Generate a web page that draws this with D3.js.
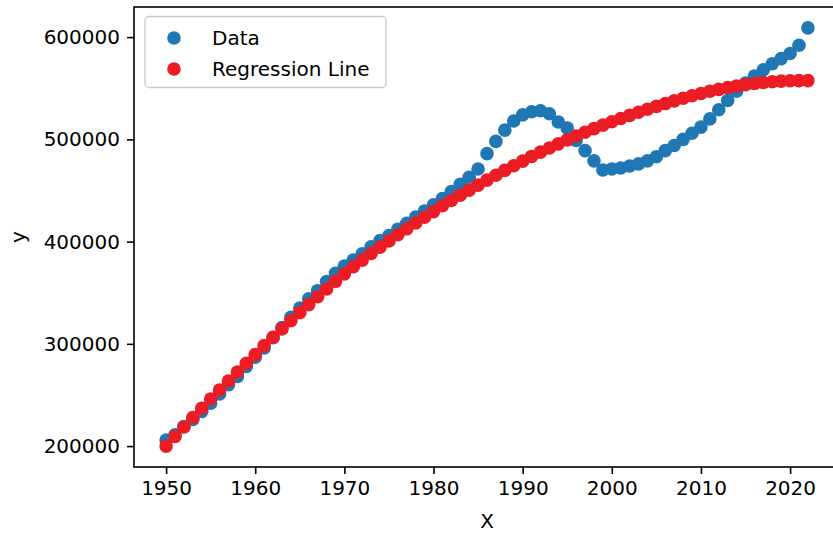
<!DOCTYPE html>
<html>
<head>
<meta charset="utf-8">
<script src="https://cdn.jsdelivr.net/npm/d3@7"></script>
<style>
  body { margin: 0; background: #fff; }
  svg { display: block; font-family: "DejaVu Sans", sans-serif; }
</style>
</head>
<body>
<svg id="chart" width="833" height="533"></svg>
<script>
// years 1950..2022
var years = d3.range(1950, 2023);

var dataValues = [
  206000, 211000, 219000, 226000, 234000, 242000, 251000, 260000, 268000, 278000,
  287000, 296000, 306000, 316000, 326000, 335000, 344000, 352000, 361000, 369000,
  376000, 382000, 388000, 395000, 401000, 406000, 412000, 418000, 424000, 430000,
  436000, 442000, 449000, 456000, 463000, 471000, 486000, 498000, 509000, 518000,
  524000, 527000, 528000, 525000, 517000, 511000, 499000, 489000, 479000, 470000,
  471000, 472000, 474000, 476000, 479000, 483000, 489000, 494000, 500000, 506000,
  512000, 520000, 529000, 538000, 547000, 555000, 562000, 568000, 574000, 579000,
  584000, 592000, 609000
];

var regValues = [
  200000, 209400, 218700, 227900, 237000, 246000, 254900, 263700, 272400, 281000,
  289500, 298300, 306500, 314600, 322600, 330500, 338350, 346100, 353700, 361150,
  368450, 375400, 381900, 388300, 394550, 400650, 406650, 412500, 418250, 423850,
  429350, 435000, 440200, 445300, 450300, 455250, 460150, 464950, 469650, 474250,
  478750, 483300, 487500, 491600, 495600, 499500, 503300, 507000, 510500, 513900,
  517200, 520400, 523500, 526500, 529400, 532250, 535000, 537650, 540200, 542600,
  544900, 547000, 548900, 550650, 552200, 553550, 554700, 555650, 556400, 556950,
  557300, 557450, 557400
];

var xTicks = [1950, 1960, 1970, 1980, 1990, 2000, 2010, 2020];
var yTicks = [200000, 300000, 400000, 500000, 600000];
var seriesNames = ["Data", "Regression Line"];
var colors = ["#1f77b4", "#ec1c24"];

var svg = d3.select("#chart");
var plotL = 134, plotR = 840, plotT = 7, plotB = 467;

var xExt = d3.extent(years);
var xPad = (xExt[1] - xExt[0]) * 0.05;
var x = d3.scaleLinear()
  .domain([xExt[0] - xPad, xExt[1] + xPad])
  .range([plotL, plotR]);

var yExt = d3.extent(dataValues.concat(regValues));
var yPad = (yExt[1] - yExt[0]) * 0.05;
var y = d3.scaleLinear()
  .domain([yExt[0] - yPad, yExt[1] + yPad])
  .range([plotB, plotT]);

// points, data first then the fit on top
var series = [dataValues, regValues];
series.forEach(function(vals, k) {
  svg.append("g")
    .selectAll("circle")
    .data(vals)
    .join("circle")
    .attr("cx", function(d, i) { return x(years[i]); })
    .attr("cy", function(d) { return y(d); })
    .attr("r", 6.8)
    .style("fill", colors[k]);
});

// frame
svg.append("rect")
  .attr("x", plotL).attr("y", plotT)
  .attr("width", plotR - plotL).attr("height", plotB - plotT)
  .attr("fill", "none").attr("stroke", "#000").attr("stroke-width", 1.6);

// axes
var xAxis = svg.append("g")
  .attr("transform", "translate(0," + plotB + ")")
  .call(d3.axisBottom(x).tickValues(xTicks).tickFormat(d3.format("d")).tickSize(7).tickPadding(7));
var yAxis = svg.append("g")
  .attr("transform", "translate(" + plotL + ",0)")
  .call(d3.axisLeft(y).tickValues(yTicks).tickFormat(d3.format("d")).tickSize(7).tickPadding(7));

[xAxis, yAxis].forEach(function(a) {
  a.select(".domain").remove();
  a.selectAll("line").attr("stroke", "#000").attr("stroke-width", 1.6);
  a.selectAll("text").attr("fill", "#000").style("font-size", "20px")
    .style("font-family", "DejaVu Sans, sans-serif");
});

// axis labels
svg.append("text")
  .attr("x", (plotL + plotR) / 2).attr("y", 528)
  .attr("text-anchor", "middle")
  .style("font-size", "20px")
  .text("X");
svg.append("text")
  .attr("transform", "translate(25," + ((plotT + plotB) / 2) + ") rotate(-90)")
  .attr("text-anchor", "middle")
  .style("font-size", "20px")
  .text("y");

// legend
var lg = svg.append("g");
lg.append("rect")
  .attr("x", 145).attr("y", 16.5)
  .attr("width", 241).attr("height", 71)
  .attr("rx", 4)
  .attr("fill", "#fff").attr("fill-opacity", 0.8)
  .attr("stroke", "#cccccc").attr("stroke-width", 1.4);
seriesNames.forEach(function(name, k) {
  var cy = 38 + k * 31;
  lg.append("circle").attr("cx", 174).attr("cy", cy).attr("r", 6.8).style("fill", colors[k]);
  lg.append("text").attr("x", 212).attr("y", cy + 7)
    .style("font-size", "20px").attr("fill", "#000")
    .text(name);
});
</script>
</body>
</html>
